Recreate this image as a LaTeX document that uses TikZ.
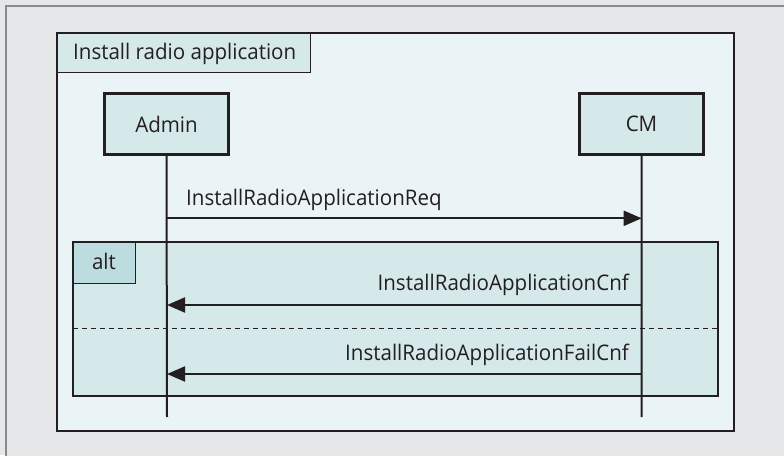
\documentclass[tikz,border=0pt]{standalone}
\usepackage{fontspec}
\setmainfont[FakeStretch=0.955]{Open Sans}
\usetikzlibrary{arrows.meta}
\definecolor{outerbg}{HTML}{E6E7E8}
\definecolor{outerline}{HTML}{8A8B8D}
\definecolor{framebg}{HTML}{EAF3F5}
\definecolor{boxbg}{HTML}{D5E8EA}
\definecolor{altlabelbg}{HTML}{BDDCDF}
\definecolor{ink}{HTML}{231F20}
\tikzset{
  x=1pt, y=-1pt,
  lbl/.style={font=\fontsize{21.5}{25}\selectfont, text=ink, inner sep=0pt},
  actor/.style={draw=ink, line width=2.2pt, fill=boxbg, minimum width=124pt, minimum height=61pt, lbl},
  lifeline/.style={draw=ink, line width=2pt},
  msg/.style={draw=ink, line width=2pt, -{Triangle[length=18pt,width=15pt]}},
  framebox/.style={draw=ink, line width=1.2pt},
}
\begin{document}
\begin{tikzpicture}
\useasboundingbox (0,0) rectangle (784,455);
% outer background
\fill[outerbg] (0,0) rectangle (784,455);
\draw[outerline, line width=1.5pt, fill=outerbg] (6,6) rectangle (800,470);
% main frame
\draw[framebox, fill=framebg] (57,33) rectangle (734,431);
\node[framebox, fill=boxbg, minimum width=253pt, minimum height=39pt, anchor=north west, lbl] (title) at (57,33) {};
\node[lbl, anchor=base west] (titletext) at (73,59) {Install radio application};
% actors
\node[actor] (admin) at (166.5,124) {Admin};
\node[actor] (cm) at (641.5,124) {CM};
\coordinate (adminend) at (167,417);
\coordinate (cmend) at (641.7,417);
% alt fragment
\draw[framebox, fill=boxbg] (73,242) rectangle (718,396);
\node[framebox, fill=altlabelbg, minimum width=62pt, minimum height=41pt, anchor=north west] (altbox) at (73,242) {};
\node[lbl, anchor=base] (alttext) at (104,269.5) {alt};
\draw[ink, line width=1pt, dash pattern=on 5pt off 4pt] (73,328) -- (718,328);
% lifelines
\draw[lifeline] (admin.south) -- (adminend);
\draw[lifeline] (cm.south) -- (cmend);
% messages
\coordinate (a1) at (167,218.3);
\coordinate (c1) at (641.7,218.3);
\coordinate (a2) at (167,305);
\coordinate (c2) at (641.7,305);
\coordinate (a3) at (167,374);
\coordinate (c3) at (641.7,374);
\draw[msg] (a1) -- (c1);
\draw[msg] (c2) -- (a2);
\draw[msg] (c3) -- (a3);
\node[lbl, anchor=base west] (req) at (186,205) {InstallRadioApplicationReq};
\node[lbl, anchor=base east] (cnf) at (629,290.7) {InstallRadioApplicationCnf};
\node[lbl, anchor=base east] (fail) at (629,360) {InstallRadioApplicationFailCnf};
\end{tikzpicture}
\end{document}
